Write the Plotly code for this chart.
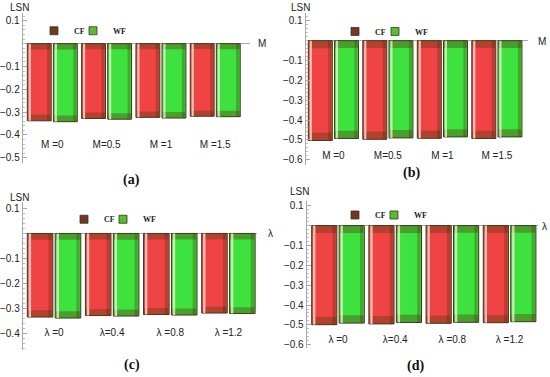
import plotly.graph_objects as go

# ---------------- data ----------------
M_LABELS = ["M =0", "M=0.5", "M =1", "M =1.5"]
L_LABELS = ["λ =0", "λ=0.4", "λ =0.8", "λ =1.2"]

A_CF = [-0.338, -0.328, -0.323, -0.318]
A_WF = [-0.342, -0.331, -0.326, -0.320]

B_CF = [-0.503, -0.497, -0.492, -0.493]
B_WF = [-0.493, -0.490, -0.485, -0.485]

C_CF = [-0.333, -0.327, -0.323, -0.317]
C_WF = [-0.337, -0.329, -0.325, -0.319]

D_CF = [-0.499, -0.495, -0.492, -0.489]
D_WF = [-0.491, -0.488, -0.487, -0.484]

A_TICKS = [0.1, -0.1, -0.2, -0.3, -0.4, -0.5]
B_TICKS = [0.1, -0.1, -0.2, -0.3, -0.4, -0.5, -0.6]
C_TICKS = [0.1, -0.1, -0.2, -0.3, -0.4]
D_TICKS = [0.1, -0.1, -0.2, -0.3, -0.4, -0.5, -0.6]

SERIES = ["CF", "WF"]

# ---------------- styling / layout ----------------
W = 550
H = 377

def px(x):
    return x / W

def py(y):
    return 1 - y / H

panels = [
    dict(cats=M_LABELS, cf=A_CF, wf=A_WF, ticks=A_TICKS,
         xdom=[px(22.7), px(250)], ydom=[py(163), py(12)],
         xr=[-0.545, 3.64], yr=[-0.5217, 0.1348], xpos=py(137),
         lsn=(19, 7), axl=("M", 262, 43), tag=("(a)", 131.7, 180),
         leg_cf=(34, 30), leg_wf=(73, 30)),
    dict(cats=M_LABELS, cf=B_CF, wf=B_WF, ticks=B_TICKS,
         xdom=[px(305.7), px(528)], ydom=[py(165), py(12)],
         xr=[-0.508, 3.571], yr=[-0.625, 0.14], xpos=py(148),
         lsn=(300.5, 7), axl=("M", 541.7, 40.5), tag=("(b)", 411.7, 173.3),
         leg_cf=(335, 30.7), leg_wf=(375, 30.7)),
    dict(cats=L_LABELS, cf=C_CF, wf=C_WF, ticks=C_TICKS,
         xdom=[px(22.7), px(257)], ydom=[py(352), py(203)],
         xr=[-0.539, 3.492], yr=[-0.465, 0.1237], xpos=py(327),
         lsn=(19, 198.3), axl=("λ", 270, 234), tag=("(c)", 131.7, 366.7),
         leg_cf=(64, 220), leg_wf=(103, 220)),
    dict(cats=L_LABELS, cf=D_CF, wf=D_WF, ticks=D_TICKS,
         xdom=[px(306.7), px(538.3)], ydom=[py(350), py(201.7)],
         xr=[-0.547, 3.502], yr=[-0.6175, 0.1235], xpos=py(333.5),
         lsn=(299.5, 192.3), axl=("λ", 544.3, 227.7), tag=("(d)", 415, 367.7),
         leg_cf=(335, 215.7), leg_wf=(374, 215.7)),
]

BAR_W = 0.44
OFFSETS = {"CF": -0.46, "WF": 0.02}
MAIN_COL = {"CF": "#f04444", "WF": "#3ee23e"}
SWATCH_COL = {"CF": "#74391b", "WF": "#5cbd2c"}
OUTLINE = "#3b3a1e"
AX_FONT = dict(family="Liberation Sans, Arial, sans-serif", size=10, color="#222")

fig = go.Figure()
layout_extra = {}
annotations = []
legend_idx = 0

for i, p in enumerate(panels):
    n = "" if i == 0 else str(i + 1)
    xa, ya = "x" + n, "y" + n
    for s in SERIES:
        vals = p["cf"] if s == "CF" else p["wf"]
        off = OFFSETS[s]
        # main bar
        fig.add_trace(go.Bar(
            x=p["cats"], y=vals, offset=off, width=BAR_W,
            marker=dict(color=MAIN_COL[s], line=dict(color=OUTLINE, width=1)),
            xaxis=xa, yaxis=ya, showlegend=False, hoverinfo="skip"))
        # darker band at the top of each bar
        fig.add_trace(go.Bar(
            x=p["cats"], y=[v * 0.075 for v in vals], offset=off + 0.01, width=BAR_W - 0.02,
            marker=dict(color="rgba(90,60,20,0.40)", line=dict(width=0)),
            xaxis=xa, yaxis=ya, showlegend=False, hoverinfo="skip"))
        # darker band at the bottom of each bar
        fig.add_trace(go.Bar(
            x=p["cats"], y=[v * 0.08 for v in vals], base=[v * 0.92 for v in vals],
            offset=off + 0.01, width=BAR_W - 0.02,
            marker=dict(color="rgba(90,60,20,0.40)", line=dict(width=0)),
            xaxis=xa, yaxis=ya, showlegend=False, hoverinfo="skip"))
        # light highlight on the left edge
        fig.add_trace(go.Bar(
            x=p["cats"], y=vals, offset=off + 0.025, width=0.04,
            marker=dict(color="rgba(255,238,220,0.75)", line=dict(width=0)),
            xaxis=xa, yaxis=ya, showlegend=False, hoverinfo="skip"))
        # darker shade on the right edge
        fig.add_trace(go.Bar(
            x=p["cats"], y=vals, offset=off + BAR_W - 0.075, width=0.055,
            marker=dict(color="rgba(70,35,0,0.28)", line=dict(width=0)),
            xaxis=xa, yaxis=ya, showlegend=False, hoverinfo="skip"))
        # legend entry (own legend so it can be placed freely)
        legend_idx += 1
        lname = "legend" if legend_idx == 1 else "legend" + str(legend_idx)
        fig.add_trace(go.Scatter(
            x=[None], y=[None], mode="markers", name=s,
            marker=dict(symbol="square", size=8, color=SWATCH_COL[s],
                        line=dict(color="#333", width=0.8)),
            xaxis=xa, yaxis=ya, legend=lname, showlegend=True, hoverinfo="skip"))
        lx, ly = p["leg_cf"] if s == "CF" else p["leg_wf"]
        layout_extra[lname] = dict(
            x=px(lx), y=py(ly), xanchor="left", yanchor="middle",
            bgcolor="rgba(0,0,0,0)", borderwidth=0,
            font=dict(family="Liberation Serif, serif", size=8, color="#222", weight="bold"))

    layout_extra["xaxis" + n] = dict(
        domain=p["xdom"], range=p["xr"], anchor="free", position=p["xpos"],
        showline=False, ticks="", showgrid=False, zeroline=False,
        tickfont=AX_FONT, type="category", fixedrange=True)
    layout_extra["yaxis" + n] = dict(
        domain=p["ydom"], range=p["yr"], anchor=xa, position=0,
        showline=True, linecolor="#a8a8a8", linewidth=1,
        ticks="inside", ticklen=4, tickcolor="#a8a8a8",
        tickvals=p["ticks"], ticktext=[("−" if t < 0 else "") + f"{abs(t):.1f}" for t in p["ticks"]],
        minor=dict(ticks="inside", ticklen=2, tickcolor="#c0c0c0", dtick=0.02, tick0=0, showgrid=False),
        showgrid=False, zeroline=True, zerolinecolor="#a8a8a8", zerolinewidth=1,
        tickfont=AX_FONT, fixedrange=True)

    annotations.append(dict(text="LSN", x=px(p["lsn"][0]), y=py(p["lsn"][1]),
                            xref="paper", yref="paper", showarrow=False,
                            font=AX_FONT, xanchor="center", yanchor="middle"))
    annotations.append(dict(text=p["axl"][0], x=px(p["axl"][1]), y=py(p["axl"][2]),
                            xref="paper", yref="paper", showarrow=False,
                            font=AX_FONT, xanchor="center", yanchor="middle"))
    annotations.append(dict(text="<b>" + p["tag"][0] + "</b>", x=px(p["tag"][1]), y=py(p["tag"][2]),
                            xref="paper", yref="paper", showarrow=False,
                            font=dict(family="Liberation Serif, serif", size=14, color="#111"),
                            xanchor="center", yanchor="middle"))

fig.update_layout(
    width=W, height=H,
    margin=dict(l=0, r=0, t=0, b=0),
    paper_bgcolor="white", plot_bgcolor="rgba(0,0,0,0)",
    barmode="overlay",
    annotations=annotations,
    **layout_extra,
)

fig.write_html("out.html",
               config={"displayModeBar": False},
               post_script="document.body.style.margin='0px';document.body.style.padding='0px';")
